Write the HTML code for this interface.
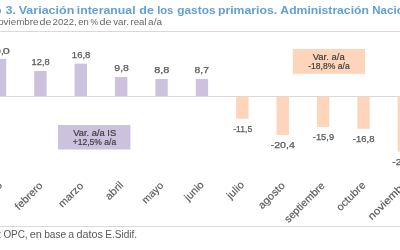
<!DOCTYPE html>
<html><head><meta charset="utf-8"><style>
html,body{margin:0;padding:0;background:#fff;width:400px;height:250px;overflow:hidden}
svg{display:block;will-change:transform}
text{font-family:"Liberation Sans",sans-serif}

</style></head><body>
<svg width="400" height="250" viewBox="0 0 400 250">
<rect x="0" y="31" width="400" height="1" fill="#D9D9D9"/>
<rect x="0" y="226" width="400" height="1" fill="#D9D9D9"/>
<rect x="-6.20" y="58.80" width="12.4" height="37.70" fill="#CCC2DE"/>
<rect x="34.19" y="71.00" width="12.4" height="25.50" fill="#CCC2DE"/>
<rect x="74.58" y="63.60" width="12.4" height="32.90" fill="#CCC2DE"/>
<rect x="114.97" y="76.90" width="12.4" height="19.60" fill="#CCC2DE"/>
<rect x="155.36" y="79.00" width="12.4" height="17.50" fill="#CCC2DE"/>
<rect x="195.75" y="79.00" width="12.4" height="17.50" fill="#CCC2DE"/>
<rect x="236.14" y="96.00" width="12.4" height="22.70" fill="#FDD5BA"/>
<rect x="276.53" y="96.00" width="12.4" height="38.90" fill="#FDD5BA"/>
<rect x="316.92" y="96.00" width="12.4" height="30.90" fill="#FDD5BA"/>
<rect x="357.31" y="96.00" width="12.4" height="32.70" fill="#FDD5BA"/>
<rect x="397.70" y="96.00" width="12.4" height="55.70" fill="#FDD5BA"/>
<rect x="0" y="96" width="400" height="1" fill="#D9D9D9"/>
<rect x="58" y="125" width="72.4" height="24.5" fill="#CCC2DE"/>
<rect x="292.8" y="49" width="72.3" height="24.8" fill="#FDD5BA"/>
<text x="-9.79" y="53.90" font-size="9.2" fill="#595959" stroke="#595959" stroke-width="0.25" textLength="13.47" lengthAdjust="spacingAndGlyphs">19,</text>
<text x="2.71" y="53.90" font-size="9.2" fill="#595959" stroke="#595959" stroke-width="0.25" textLength="7.01" lengthAdjust="spacingAndGlyphs">0</text>
<text x="31.54" y="64.60" font-size="9.2" fill="#595959" stroke="#595959" stroke-width="0.25" textLength="18.16" lengthAdjust="spacingAndGlyphs">12,8</text>
<text x="71.88" y="57.60" font-size="9.2" fill="#595959" stroke="#595959" stroke-width="0.25" textLength="18.48" lengthAdjust="spacingAndGlyphs">16,8</text>
<text x="114.37" y="71.00" font-size="9.2" fill="#595959" stroke="#595959" stroke-width="0.25" textLength="14.59" lengthAdjust="spacingAndGlyphs">9,8</text>
<text x="154.20" y="72.80" font-size="9.2" fill="#595959" stroke="#595959" stroke-width="0.25" textLength="15.29" lengthAdjust="spacingAndGlyphs">8,8</text>
<text x="194.58" y="72.90" font-size="9.2" fill="#595959" stroke="#595959" stroke-width="0.25" textLength="14.42" lengthAdjust="spacingAndGlyphs">8,7</text>
<text x="233.18" y="132.00" font-size="9.2" fill="#595959" stroke="#595959" stroke-width="0.25" textLength="19.01" lengthAdjust="spacingAndGlyphs">-11,5</text>
<text x="270.67" y="148.20" font-size="9.2" fill="#595959" stroke="#595959" stroke-width="0.25" textLength="24.16" lengthAdjust="spacingAndGlyphs">-20,4</text>
<text x="312.79" y="140.20" font-size="9.2" fill="#595959" stroke="#595959" stroke-width="0.25" textLength="21.32" lengthAdjust="spacingAndGlyphs">-15,9</text>
<text x="352.78" y="142.00" font-size="9.2" fill="#595959" stroke="#595959" stroke-width="0.25" textLength="21.69" lengthAdjust="spacingAndGlyphs">-16,8</text>
<text x="392.38" y="165.30" font-size="9.2" fill="#595959" stroke="#595959" stroke-width="0.25" textLength="23.85" lengthAdjust="spacingAndGlyphs">-28,4</text>
<text x="73.24" y="135.70" font-size="9" fill="#404040" stroke="#404040" stroke-width="0.2" textLength="42.93" lengthAdjust="spacingAndGlyphs">Var. a/a IS</text>
<text x="72.67" y="144.90" font-size="9" fill="#404040" stroke="#404040" stroke-width="0.2" textLength="43.52" lengthAdjust="spacingAndGlyphs">+12,5% a/a</text>
<text x="312.74" y="59.70" font-size="9" fill="#404040" stroke="#404040" stroke-width="0.2" textLength="31.92" lengthAdjust="spacingAndGlyphs">Var. a/a</text>
<text x="308.17" y="68.90" font-size="9" fill="#404040" stroke="#404040" stroke-width="0.2" textLength="41.51" lengthAdjust="spacingAndGlyphs">-18,8% a/a</text>
<text x="-5.72" y="13.60" font-size="11.8" font-weight="bold" fill="#60A0D8" textLength="7.23" lengthAdjust="spacingAndGlyphs">o</text>
<text x="5.59" y="13.60" font-size="11.8" font-weight="bold" fill="#60A0D8" textLength="10.47" lengthAdjust="spacingAndGlyphs">3.</text>
<text x="18.74" y="13.60" font-size="11.8" font-weight="bold" fill="#60A0D8" textLength="55.53" lengthAdjust="spacingAndGlyphs">Variación</text>
<text x="76.87" y="13.60" font-size="11.8" font-weight="bold" fill="#60A0D8" textLength="58.71" lengthAdjust="spacingAndGlyphs">interanual</text>
<text x="139.32" y="13.60" font-size="11.8" font-weight="bold" fill="#60A0D8" textLength="14.60" lengthAdjust="spacingAndGlyphs">de</text>
<text x="157.14" y="13.60" font-size="11.8" font-weight="bold" fill="#60A0D8" textLength="16.24" lengthAdjust="spacingAndGlyphs">los</text>
<text x="177.25" y="13.60" font-size="11.8" font-weight="bold" fill="#60A0D8" textLength="38.29" lengthAdjust="spacingAndGlyphs">gastos</text>
<text x="217.97" y="13.60" font-size="11.8" font-weight="bold" fill="#60A0D8" textLength="59.21" lengthAdjust="spacingAndGlyphs">primarios.</text>
<text x="280.39" y="13.60" font-size="11.8" font-weight="bold" fill="#60A0D8" textLength="88.50" lengthAdjust="spacingAndGlyphs">Administración</text>
<text x="372.26" y="13.60" font-size="11.8" font-weight="bold" fill="#60A0D8" textLength="24.49" lengthAdjust="spacingAndGlyphs">Naci</text>
<text x="-1.87" y="24.80" font-size="9.5" fill="#666666" textLength="40.36" lengthAdjust="spacingAndGlyphs">oviembre</text>
<text x="39.44" y="24.80" font-size="9.5" fill="#666666" textLength="11.93" lengthAdjust="spacingAndGlyphs">de</text>
<text x="52.64" y="24.80" font-size="9.5" fill="#666666" textLength="24.15" lengthAdjust="spacingAndGlyphs">2022,</text>
<text x="78.35" y="24.80" font-size="9.5" fill="#666666" textLength="10.53" lengthAdjust="spacingAndGlyphs">en</text>
<text x="90.47" y="24.80" font-size="9.5" fill="#666666" textLength="7.64" lengthAdjust="spacingAndGlyphs">%</text>
<text x="99.53" y="24.80" font-size="9.5" fill="#666666" textLength="12.00" lengthAdjust="spacingAndGlyphs">de</text>
<text x="113.20" y="24.80" font-size="9.5" fill="#666666" textLength="15.79" lengthAdjust="spacingAndGlyphs">var.</text>
<text x="130.48" y="24.80" font-size="9.5" fill="#666666" textLength="16.06" lengthAdjust="spacingAndGlyphs">real</text>
<text x="148.12" y="24.80" font-size="9.5" fill="#666666" textLength="13.84" lengthAdjust="spacingAndGlyphs">a/a</text>
<text x="-2.20" y="238.10" font-size="10" fill="#595959" textLength="4.17" lengthAdjust="spacingAndGlyphs">:</text>
<text x="3.40" y="238.10" font-size="10" fill="#595959" textLength="24.24" lengthAdjust="spacingAndGlyphs">OPC,</text>
<text x="29.75" y="238.10" font-size="10" fill="#595959" textLength="12.24" lengthAdjust="spacingAndGlyphs">en</text>
<text x="44.18" y="238.10" font-size="10" fill="#595959" textLength="22.11" lengthAdjust="spacingAndGlyphs">base</text>
<text x="68.25" y="238.10" font-size="10" fill="#595959" textLength="5.85" lengthAdjust="spacingAndGlyphs">a</text>
<text x="76.46" y="238.10" font-size="10" fill="#595959" textLength="26.40" lengthAdjust="spacingAndGlyphs">datos</text>
<text x="105.30" y="238.10" font-size="10" fill="#595959" textLength="31.85" lengthAdjust="spacingAndGlyphs">E.Sidif.</text>
<text x="396.76" y="13.60" font-size="11.8" font-weight="bold" fill="#60A0D8">onal</text>
<text transform="translate(43.25,186.25) rotate(-45)" text-anchor="end" font-size="10.5" fill="#595959" stroke="#595959" stroke-width="0.15" textLength="34.31" lengthAdjust="spacingAndGlyphs">febrero</text>
<text transform="translate(84.00,186.50) rotate(-45)" text-anchor="end" font-size="10.5" fill="#595959" stroke="#595959" stroke-width="0.15" textLength="30.46" lengthAdjust="spacingAndGlyphs">marzo</text>
<text transform="translate(124.00,185.75) rotate(-45)" text-anchor="end" font-size="10.5" fill="#595959" stroke="#595959" stroke-width="0.15" textLength="20.80" lengthAdjust="spacingAndGlyphs">abril</text>
<text transform="translate(164.00,186.25) rotate(-45)" text-anchor="end" font-size="10.5" fill="#595959" stroke="#595959" stroke-width="0.15" textLength="25.37" lengthAdjust="spacingAndGlyphs">mayo</text>
<text transform="translate(204.50,185.50) rotate(-45)" text-anchor="end" font-size="10.5" fill="#595959" stroke="#595959" stroke-width="0.15" textLength="22.47" lengthAdjust="spacingAndGlyphs">junio</text>
<text transform="translate(244.75,185.50) rotate(-45)" text-anchor="end" font-size="10.5" fill="#595959" stroke="#595959" stroke-width="0.15" textLength="19.64" lengthAdjust="spacingAndGlyphs">julio</text>
<text transform="translate(285.50,186.25) rotate(-45)" text-anchor="end" font-size="10.5" fill="#595959" stroke="#595959" stroke-width="0.15" textLength="32.87" lengthAdjust="spacingAndGlyphs">agosto</text>
<text transform="translate(325.50,186.25) rotate(-45)" text-anchor="end" font-size="10.5" fill="#595959" stroke="#595959" stroke-width="0.15" textLength="52.45" lengthAdjust="spacingAndGlyphs">septiembre</text>
<text transform="translate(366.25,185.75) rotate(-45)" text-anchor="end" font-size="10.5" fill="#595959" stroke="#595959" stroke-width="0.15" textLength="36.52" lengthAdjust="spacingAndGlyphs">octubre</text>
<text transform="translate(2.66,186.00) rotate(-45)" text-anchor="end" font-size="10.5" fill="#595959" stroke="#595959" stroke-width="0.15" textLength="27.67" lengthAdjust="spacingAndGlyphs">enero</text>
<text transform="translate(410.60,182.00) rotate(-45)" text-anchor="end" font-size="10.5" fill="#595959" stroke="#595959" stroke-width="0.15" textLength="54.50" lengthAdjust="spacingAndGlyphs">noviembre</text>
</svg>
</body></html>
